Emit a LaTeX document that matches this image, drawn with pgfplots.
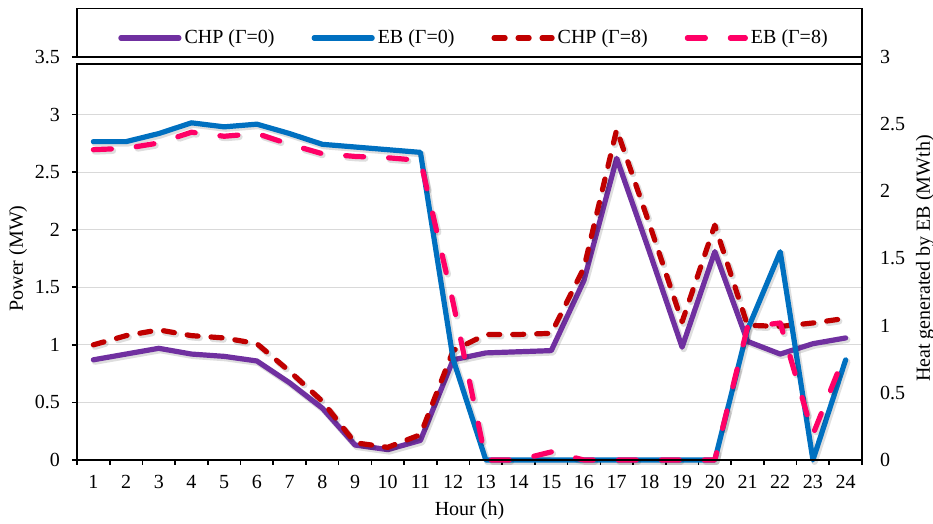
\documentclass[border=0pt]{standalone}
\usepackage{fontspec}
\setmainfont{Liberation Serif}
\usepackage{pgfplots}
\usepackage{pgfplotstable}
\pgfplotsset{compat=1.18}

\definecolor{chpzero}{HTML}{7030A0}
\definecolor{ebzero}{HTML}{0070C0}
\definecolor{chpeight}{HTML}{C00000}
\definecolor{ebeight}{HTML}{FF0066}
\definecolor{gridgray}{HTML}{D9D9D9}

% CHP electric output (MW), left axis
\pgfplotstableread{
h  chp0  chp8
1  0.87  1.00
2  0.92  1.08
3  0.97  1.13
4  0.92  1.08
5  0.90  1.06
6  0.86  1.01
7  0.67  0.77
8  0.45  0.51
9  0.13  0.15
10 0.09  0.11
11 0.17  0.22
12 0.87  0.95
13 0.93  1.09
14 0.94  1.09
15 0.95  1.10
16 1.56  1.67
17 2.62  2.87
18 1.81  2.05
19 0.98  1.20
20 1.81  2.04
21 1.03  1.17
22 0.92  1.16
23 1.01  1.19
24 1.06  1.23
}\chpdata

% heat generated by the electric boiler (MWth), right axis
\pgfplotstableread{
h  eb0   eb8
1  2.37  2.31
2  2.37  2.32
3  2.43  2.36
4  2.51  2.44
5  2.48  2.41
6  2.50  2.43
7  2.43  2.35
8  2.35  2.28
9  2.33  2.26
10 2.31  2.25
11 2.29  2.23
12 0.75  1.17
13 0     0
14 0     0
15 0     0.06
16 0     0
17 0     0
18 0     0
19 0     0
20 0     0
21 0.97  0.99
22 1.55  1.02
23 0     0.19
24 0.745 0.80
}\ebdata

\begin{document}
\begin{tikzpicture}[font=\fontsize{10}{12}\selectfont]
\pgfplotsset{
  base/.style={
    width=392.5pt, height=201.5pt, scale only axis,
    xmin=0.5, xmax=24.5,
    axis line style={draw=none},
    /pgf/number format/assume math mode=true,
    tick label style={font=\fontsize{10}{12}\selectfont},
    label style={font=\fontsize{10}{12}\selectfont},
  },
  serie/.style={line width=2.6pt, line cap=round, line join=round},
  shadow/.style={line width=3.2pt, line cap=round, line join=round,
    black, opacity=0.13, xshift=0.8pt, yshift=-0.9pt, forget plot},
  dashA/.style={dash pattern=on 5.5pt off 6.5pt},
  dashB/.style={dash pattern=on 9pt off 12.5pt},
}
\path[use as bounding box] (-38.5pt,-32pt) rectangle (428pt,230pt);

\begin{axis}[base,
  ymin=0, ymax=3.5,
  ytick={0,0.5,1,1.5,2,2.5,3,3.5},
  yticklabels={0,0.5,1,1.5,2,2.5,3,3.5},
  yticklabel style={xshift=-2.5pt},
  xticklabel style={yshift=-1.5pt},
  ymajorgrids, grid style={gridgray, line width=0.6pt},
  xtick={1,...,24},
  minor xtick={0.5,1.5,...,24.5},
  xtick pos=bottom, ytick pos=left,
  tick align=outside,
  major tick length=2.5pt, minor tick length=2.5pt,
  major x tick style={draw=none},
  tick style={black, line width=0.8pt},
  xlabel={Hour (h)},
  ylabel={Power (MW)},
  every axis x label/.style={at={(axis description cs:0.5,-0.1266)}, anchor=center},
  every axis y label/.style={at={(axis description cs:-0.0752,0.5)}, anchor=center, rotate=90},
  legend columns=4,
  legend style={at={(rel axis cs:0.5,1)}, anchor=center, xshift=2.5pt, yshift=9.5pt,
    draw=none, fill=none, inner sep=0pt,
    /tikz/every even column/.append style={column sep=17pt},
    nodes={inner sep=1.5pt}},
  legend image code/.code={\draw[#1] (0pt,0pt) -- (29pt,0pt);},
]
\addlegendimage{serie, chpzero}
\addlegendentry{CHP (Γ=0)}
\addlegendimage{serie, ebzero}
\addlegendentry{EB (Γ=0)}
\addlegendimage{serie, chpeight, dashA}
\addlegendentry{CHP (Γ=8)}
\addlegendimage{serie, ebeight, dashB}
\addlegendentry{EB (Γ=8)}
\addplot[shadow] table[x=h, y=chp0] {\chpdata};
\addplot[serie, chpzero, forget plot] table[x=h, y=chp0] {\chpdata};
\addplot[shadow, dashA] table[x=h, y=chp8] {\chpdata};
\addplot[serie, chpeight, dashA, forget plot] table[x=h, y=chp8] {\chpdata};
\end{axis}

\begin{axis}[base,
  ymin=0, ymax=3,
  axis y line*=right, axis x line=none,
  ytick={0,0.5,1,1.5,2,2.5,3},
  yticklabels={0,0.5,1,1.5,2,2.5,3},
  yticklabel style={xshift=5.5pt},
  major tick length=0pt,
  ylabel={Heat generated by EB (MWth)},
  every axis y label/.style={at={(axis description cs:1.0803,0.5)}, anchor=center, rotate=90},
  clip=false,
]
\addplot[shadow] table[x=h, y=eb0] {\ebdata};
\addplot[serie, ebzero] table[x=h, y=eb0] {\ebdata};
\addplot[shadow, dashB] table[x=h, y=eb8] {\ebdata};
\addplot[serie, ebeight, dashB] table[x=h, y=eb8] {\ebdata};
% frame of the plot area and of the legend strip above it
\begin{scope}[black, line width=0.8pt, line cap=rect]
\draw (rel axis cs:0,0) -- (rel axis cs:1,0);
\draw (rel axis cs:0,0) -- (rel axis cs:0,0.9826);
\draw (rel axis cs:0,0.9826) -- (rel axis cs:1,0.9826);
\draw (rel axis cs:1,0) -- ([yshift=24.25pt]rel axis cs:1,1);
\draw (rel axis cs:0,1) -- (rel axis cs:1,1);
\draw ([yshift=24.25pt]rel axis cs:0,1) -- ([yshift=24.25pt]rel axis cs:1,1);
\draw (rel axis cs:0,1) -- ([yshift=24.25pt]rel axis cs:0,1);
\end{scope}
\end{axis}
\end{tikzpicture}
\end{document}
